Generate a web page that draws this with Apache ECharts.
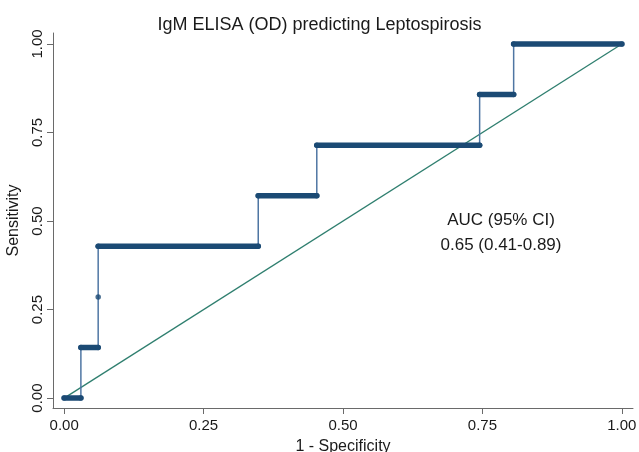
<!DOCTYPE html>
<html>
<head>
<meta charset="utf-8">
<title>IgM ELISA ROC</title>
<script src="https://cdn.jsdelivr.net/npm/echarts@6.0.0/dist/echarts.min.js"></script>
<style>
  html, body { margin: 0; padding: 0; background: #fff; }
  #chart { width: 639px; height: 452px; }
</style>
</head>
<body>
<div id="chart"></div>
<script>
// ROC curve vertices (1 - specificity, sensitivity)
const rocX = [0, 0.03, 0.03, 0.061, 0.061, 0.061, 0.348, 0.348, 0.453, 0.453, 0.745, 0.745, 0.806, 0.806, 1];
const rocY = [0, 0, 1 / 7, 1 / 7, 2 / 7, 3 / 7, 3 / 7, 4 / 7, 4 / 7, 5 / 7, 5 / 7, 6 / 7, 6 / 7, 1, 1];
const refX = [0, 1];
const refY = [0, 1];
const tickValues = [0, 0.25, 0.5, 0.75, 1];
const aucLines = ["AUC (95% CI)", "0.65 (0.41-0.89)"];

const font = "Liberation Sans, Arial, Helvetica, sans-serif";
const rocPoints = rocX.map((x, i) => [x, rocY[i]]);

// horizontal runs of the curve (drawn thick, like the stacked markers)
const runs = [];
for (let i = 0; i < rocPoints.length - 1; i++) {
  if (rocPoints[i][1] === rocPoints[i + 1][1] && rocPoints[i][0] !== rocPoints[i + 1][0]) {
    runs.push({ coords: [rocPoints[i], rocPoints[i + 1]] });
  }
}

const chart = echarts.init(document.getElementById("chart"));

const axisCommon = {
  type: "value",
  splitLine: { show: false },
  axisLine: { show: true, onZero: false, lineStyle: { color: "#6a6a6a", width: 1 } },
  axisTick: { show: true, length: 6, customValues: tickValues, lineStyle: { color: "#6a6a6a" } },
  axisLabel: {
    customValues: tickValues,
    color: "#1a1a1a",
    fontSize: 15,
    fontFamily: font,
    formatter: v => v.toFixed(2)
  },
  nameLocation: "middle",
  nameTextStyle: { color: "#1a1a1a", fontSize: 16, fontFamily: font }
};

chart.setOption({
  animation: false,
  title: {
    text: "IgM ELISA (OD) predicting Leptospirosis",
    left: "center",
    top: 11,
    textStyle: { color: "#1a1a1a", fontSize: 18, fontWeight: "normal", fontFamily: font }
  },
  grid: { left: 53, right: 6, top: 33, bottom: 44, outerBoundsMode: "none", containLabel: false },
  xAxis: Object.assign({}, axisCommon, {
    min: -0.02,
    max: 1.02,
    name: "1 - Specificity",
    nameGap: 31,
    axisLabel: Object.assign({}, axisCommon.axisLabel, { margin: 10 })
  }),
  yAxis: Object.assign({}, axisCommon, {
    min: -0.028,
    max: 1.031,
    name: "Sensitivity",
    nameGap: 31,
    axisLabel: Object.assign({}, axisCommon.axisLabel, { rotate: 90, margin: 8 })
  }),
  graphic: [{
    type: "text",
    x: 501,
    y: 208,
    style: {
      text: aucLines.join("\n"),
      fill: "#1a1a1a",
      font: "17px " + font,
      align: "center",
      lineHeight: 25
    }
  }],
  series: [
    {
      type: "line",
      data: refX.map((x, i) => [x, refY[i]]),
      showSymbol: false,
      lineStyle: { color: "#2f7f6f", width: 1.3 },
      z: 1
    },
    {
      type: "line",
      data: rocPoints,
      showSymbol: false,
      lineStyle: { color: "#4f76a3", width: 1.5 },
      z: 2
    },
    {
      type: "lines",
      coordinateSystem: "cartesian2d",
      polyline: true,
      data: runs,
      lineStyle: { color: "#1b4a74", width: 5.5, cap: "round", opacity: 1 },
      z: 3
    },
    {
      type: "scatter",
      data: rocPoints,
      symbolSize: 5.5,
      itemStyle: { color: "#1b4a74" },
      z: 4
    }
  ]
});
</script>
</body>
</html>
